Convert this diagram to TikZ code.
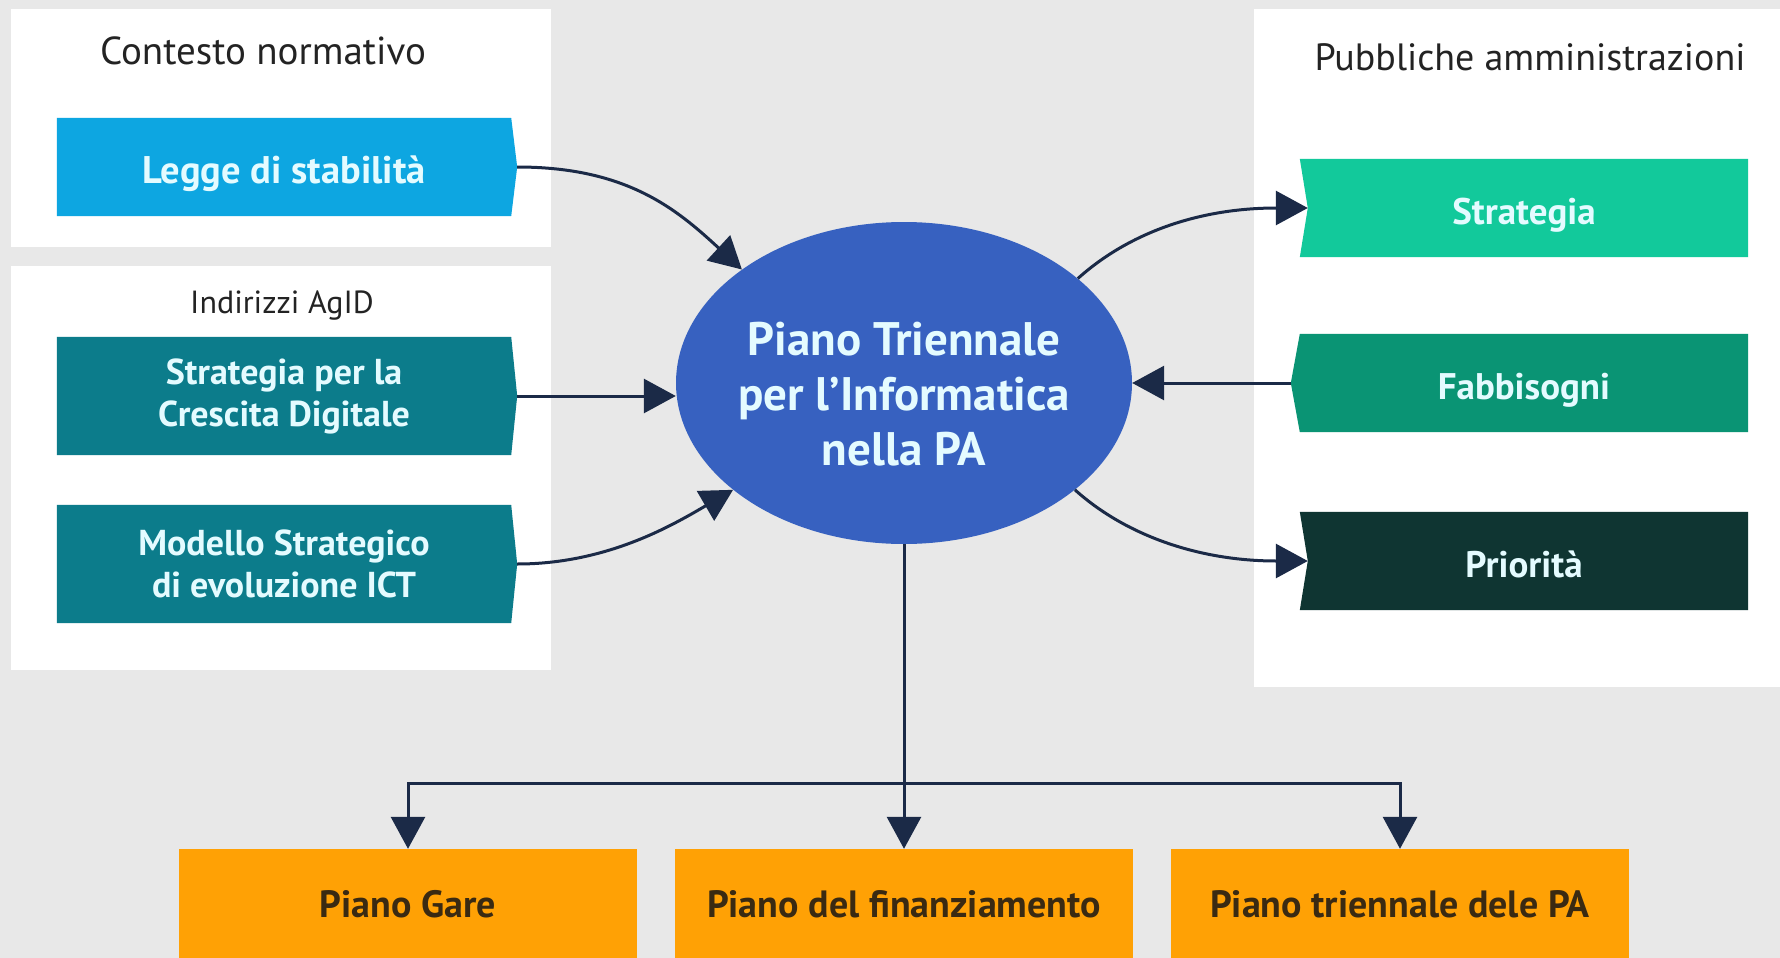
\documentclass[tikz,border=0pt]{standalone}
\usepackage{fontspec}
\setmainfont{PT Sans}
\usetikzlibrary{arrows.meta,backgrounds,shapes.geometric}
\definecolor{bgc}{HTML}{E8E8E8}
\definecolor{lnc}{HTML}{1B2A47}
\definecolor{leggec}{HTML}{0DA6E1}
\definecolor{tealc}{HTML}{0C7C8B}
\definecolor{ellc}{HTML}{3761C0}
\definecolor{stratc}{HTML}{12C99B}
\definecolor{fabbc}{HTML}{0A9474}
\definecolor{prioc}{HTML}{0F3532}
\definecolor{orc}{HTML}{FFA105}
\definecolor{ltxt}{HTML}{E4FBFF}
\definecolor{dtxt}{HTML}{232323}
\definecolor{otxt}{HTML}{3A2A12}
\tikzset{
  boxlbl/.style={rectangle, inner sep=0pt, align=center, text=ltxt,
    font=\fontsize{36}{42}\selectfont\bfseries},
  oneline/.style={text height=32pt, text depth=0pt},
  botlbl/.style={rectangle, inner sep=0pt, align=center, text=otxt,
    minimum width=458pt, minimum height=110pt,
    font=\fontsize{38}{44}\selectfont\bfseries},
  ttl/.style={inner sep=0pt, text=dtxt, font=\fontsize{38}{44}\selectfont},
  conn/.style={draw=lnc, line width=3pt, -{Triangle[length=32pt,width=34pt]}},
  plainln/.style={draw=lnc, line width=3pt}
}
\begin{document}
\begin{tikzpicture}[x=1pt,y=-1pt]
\useasboundingbox (0,0) rectangle (1780,958);

% titles
\node[ttl, font=\fontsize{39}{44}\selectfont] (t1) at (263,51) {Contesto normativo};
\node[ttl, font=\fontsize{32}{38}\selectfont] (t2) at (282,306) {Indirizzi AgID};
\node[ttl] (t3) at (1530,57) {Pubbliche amministrazioni};

% left boxes
\node[boxlbl, oneline, minimum width=454pt, minimum height=98pt, font=\fontsize{38.5}{44}\selectfont\bfseries] (legge) at (284,167) {Legge di stabilità};
\node[boxlbl, minimum width=454pt, minimum height=118pt] (cresc) at (284,396) {Strategia per la\\Crescita Digitale};
\node[boxlbl, minimum width=454pt, minimum height=118pt] (model) at (284,564) {Modello Strategico\\di evoluzione ICT};

% right boxes
\node[boxlbl, oneline, minimum width=448pt, minimum height=98pt, font=\fontsize{37}{42}\selectfont\bfseries] (strat) at (1524,208) {Strategia};
\node[boxlbl, oneline, minimum width=448pt, minimum height=98pt, font=\fontsize{37}{42}\selectfont\bfseries] (fabb) at (1524,383) {Fabbisogni};
\node[boxlbl, oneline, minimum width=448pt, minimum height=98pt, font=\fontsize{37}{42}\selectfont\bfseries] (prio) at (1524,561) {Priorità};

% ellipse
\node[ellipse, inner sep=0pt, minimum width=456pt, minimum height=322pt] (ell) at (904,383) {};
\node[align=center, text=ltxt, inner sep=0pt, font=\fontsize{47}{55}\selectfont\bfseries] (elltxt) at (904,394) {Piano Triennale\\per l’Informatica\\nella PA};

% bottom boxes
\node[botlbl] (gare) at (408,904) {Piano Gare};
\node[botlbl] (fin) at (904,904) {Piano del finanziamento};
\node[botlbl] (trien) at (1400,904) {Piano triennale dele PA};

\coordinate (stratin) at ([xshift=8pt]strat.west);
\coordinate (prioin) at ([xshift=8pt]prio.west);
\coordinate (fabbtip) at ([xshift=-9pt]fabb.west);
\coordinate (leggetip) at ([xshift=6pt]legge.east);
\coordinate (cresctip) at ([xshift=6pt]cresc.east);
\coordinate (modeltip) at ([xshift=6pt]model.east);
\coordinate (hub) at (904,783);

\begin{scope}[on background layer]
  \fill[bgc] (0,0) rectangle (1780,958);
  \fill[white] (11,9) rectangle (551,247);
  \fill[white] (11,266) rectangle (551,670);
  \fill[white] (1254,9) rectangle (1780,687);
  \fill[leggec] (legge.north west) -- (legge.north east) -- (leggetip) -- (legge.south east) -- (legge.south west) -- cycle;
  \fill[tealc] (cresc.north west) -- (cresc.north east) -- (cresctip) -- (cresc.south east) -- (cresc.south west) -- cycle;
  \fill[tealc] (model.north west) -- (model.north east) -- (modeltip) -- (model.south east) -- (model.south west) -- cycle;
  \fill[stratc] (strat.north west) -- (strat.north east) -- (strat.south east) -- (strat.south west) -- (stratin) -- cycle;
  \fill[fabbc] (fabb.north west) -- (fabb.north east) -- (fabb.south east) -- (fabb.south west) -- (fabbtip) -- cycle;
  \fill[prioc] (prio.north west) -- (prio.north east) -- (prio.south east) -- (prio.south west) -- (prioin) -- cycle;
  \fill[ellc] (ell.center) ellipse[x radius=228pt, y radius=161pt];
  \fill[orc] (gare.north west) rectangle (gare.south east);
  \fill[orc] (fin.north west) rectangle (fin.south east);
  \fill[orc] (trien.north west) rectangle (trien.south east);
\end{scope}

% connectors
\draw[conn] (leggetip) .. controls +(110,0) and +(-65,-60) .. (ell.145);
\draw[conn] (cresctip) -- (cresctip -| ell.west);
\draw[conn] (modeltip) .. controls +(90,0) and +(-60,35) .. (ell.212);
\draw[conn] (ell.31) .. controls +(50,-45) and +(-110,0) .. (stratin);
\draw[conn] (fabbtip) -- (ell.east);
\draw[conn] (ell.328) .. controls +(50,45) and +(-110,0) .. (prioin);
\draw[conn] (ell.south) -- (fin.north);
\draw[plainln] (gare.north |- hub) -- (trien.north |- hub);
\draw[conn] (hub) -| (gare.north);
\draw[conn] (hub) -| (trien.north);
\end{tikzpicture}
\end{document}
